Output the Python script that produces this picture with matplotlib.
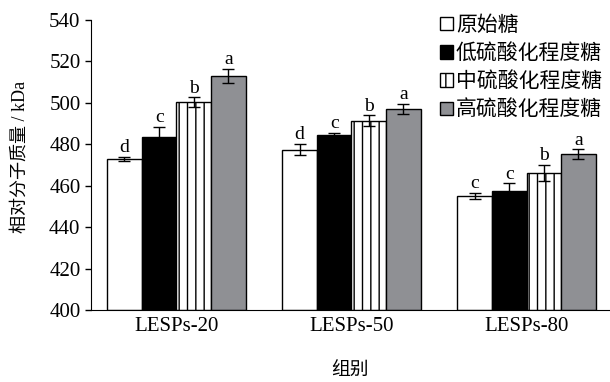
import numpy as np
import matplotlib
matplotlib.use('Agg')
import matplotlib.pyplot as plt

plt.rcParams['font.family'] = ['Liberation Serif', 'Noto Sans CJK SC']
plt.rcParams['hatch.linewidth'] = 1.0

groups = ['LESPs-20', 'LESPs-50', 'LESPs-80']
series = ['原始糖', '低硫酸化程度糖', '中硫酸化程度糖', '高硫酸化程度糖']
values = [
    [473.1, 477.4, 455.0],
    [483.5, 484.5, 457.5],
    [500.3, 491.4, 466.2],
    [513.0, 497.1, 475.2],
]
errors = [
    [1.0, 2.8, 1.6],
    [5.0, 1.1, 3.7],
    [2.3, 2.6, 3.9],
    [3.4, 2.5, 2.4],
]
letters = [
    ['d', 'd', 'c'],
    ['c', 'c', 'c'],
    ['b', 'b', 'b'],
    ['a', 'a', 'a'],
]
yticks = [400, 420, 440, 460, 480, 500, 520, 540]

faces = ['white', 'black', 'white', '#8f9094']
hatches = [None, None, '||', None]

fig = plt.figure(figsize=(6.1, 3.82), dpi=100)
ax = fig.add_axes([0.149, 0.188, 0.851, 0.760])

x = np.arange(len(groups))
w = 0.198
for i in range(len(series)):
    xs = x + (i - 1.5) * w
    ax.bar(xs, np.array(values[i]) - 400, w, bottom=400, color=faces[i],
           edgecolor='black', linewidth=1.0, hatch=hatches[i], label=series[i])
    ax.errorbar(xs, values[i], yerr=errors[i], fmt='none', ecolor='black',
                elinewidth=1.0, capsize=4, capthick=1.0)
    for xx, v, e, t in zip(xs, values[i], errors[i], letters[i]):
        ax.text(xx, v + e + 0.3, t, ha='center', va='bottom', fontsize=14)

ax.set_xlim(-0.489, 2.477)
ax.set_ylim(400, 540)
ax.set_yticks(yticks)
ax.set_xticks(x)
ax.set_xticklabels(groups)
ax.tick_params(axis='x', length=0, labelsize=15, pad=5)
ax.tick_params(axis='y', direction='out', length=4.5, width=1, labelsize=15, pad=3)
ax.spines['top'].set_visible(False)
ax.spines['right'].set_visible(False)
ax.set_ylabel('相对分子质量 / kDa', fontsize=13)
ax.yaxis.set_label_coords(-0.121, 0.528)
ax.set_xlabel('组别', fontsize=13.5, family=['Noto Sans CJK SC'])
ax.xaxis.set_label_coords(0.5, -0.17)

ax.legend(loc='upper left', bbox_to_anchor=(0.672, 1.02), frameon=False,
          prop={'family': ['Noto Sans CJK SC'], 'size': 15},
          handlelength=0.62, handleheight=0.62, handletextpad=0.15,
          labelspacing=0.3, borderaxespad=0.0, borderpad=0.0)

fig.savefig('out.png', dpi=100)
